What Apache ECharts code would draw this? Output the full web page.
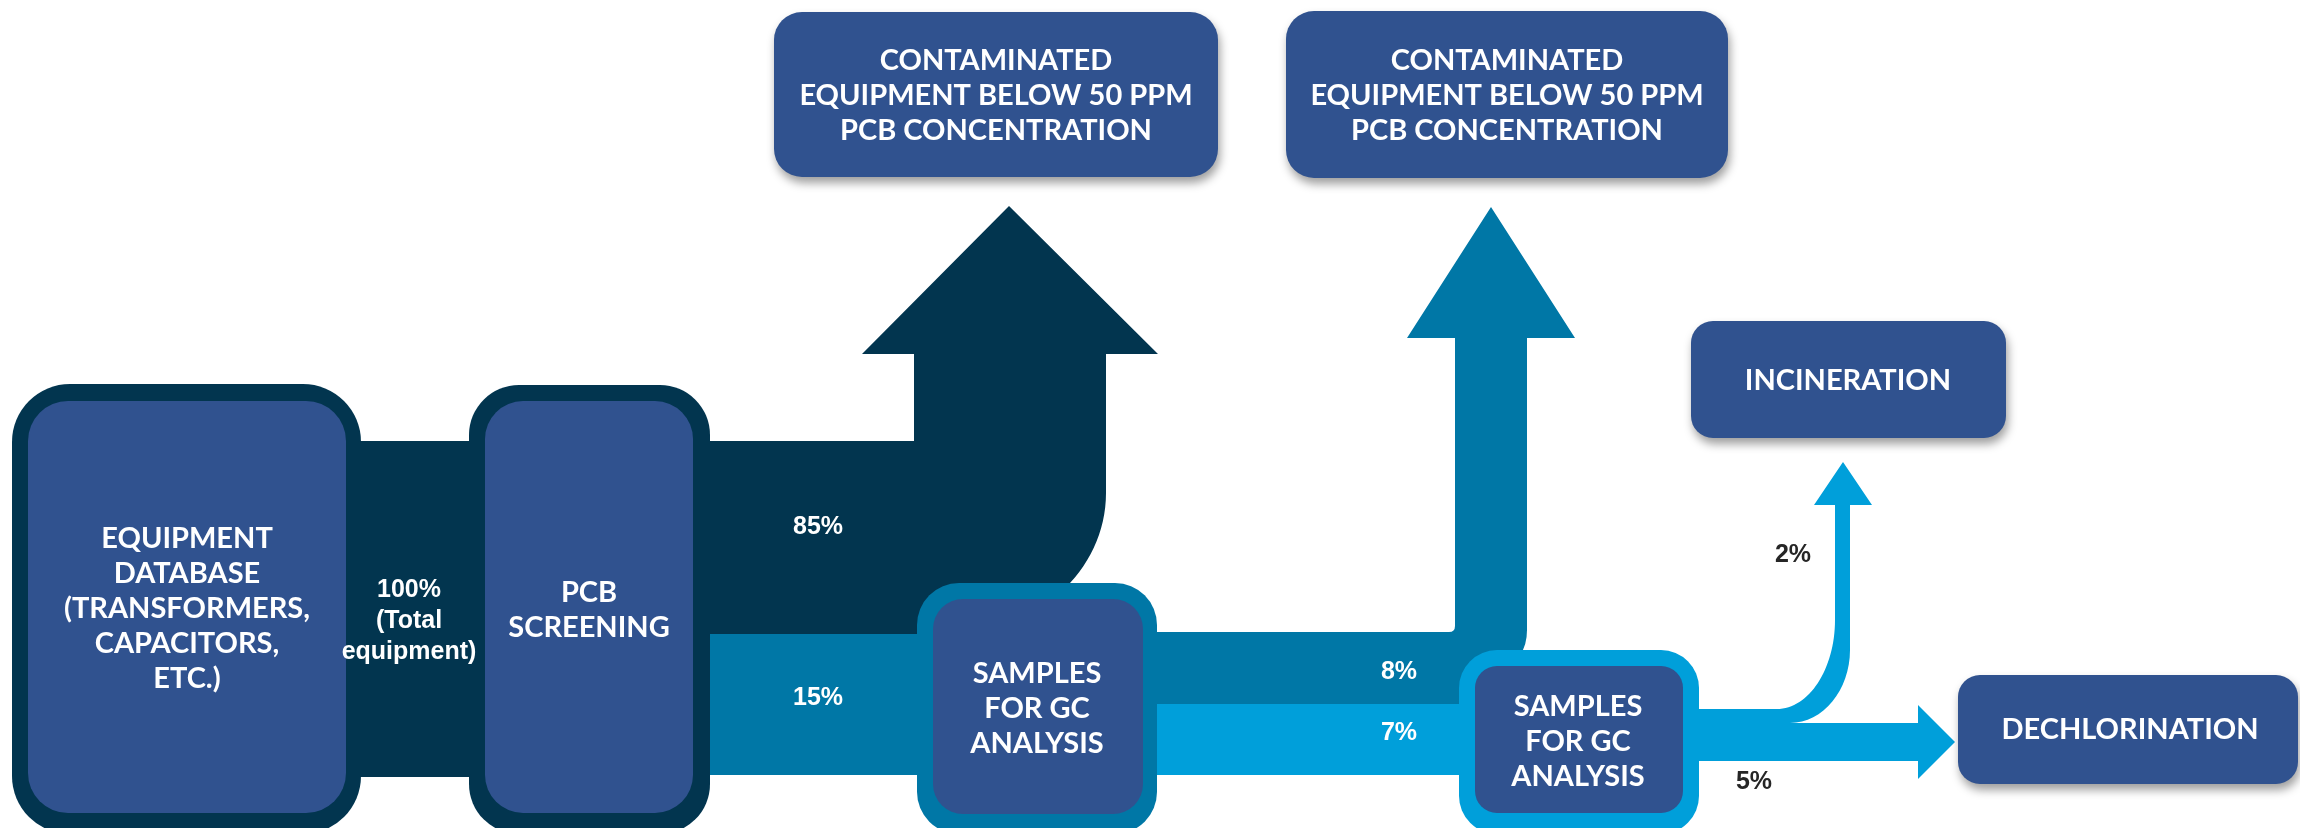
<!DOCTYPE html>
<html>
<head>
<meta charset="utf-8">
<script src="https://cdn.jsdelivr.net/npm/echarts@6/dist/echarts.min.js"></script>
<style>
html,body{margin:0;padding:0;background:#ffffff;}
#chart{width:2300px;height:828px;}
</style>
</head>
<body>
<div id="chart"></div>
<script>
// ---------------- data ----------------
const nodeLabels = [
  'EQUIPMENT\nDATABASE\n(TRANSFORMERS,\nCAPACITORS,\nETC.)',
  'PCB\nSCREENING',
  'SAMPLES\nFOR GC\nANALYSIS',
  'SAMPLES\nFOR GC\nANALYSIS',
  'CONTAMINATED\nEQUIPMENT BELOW 50 PPM\nPCB CONCENTRATION',
  'CONTAMINATED\nEQUIPMENT BELOW 50 PPM\nPCB CONCENTRATION',
  'INCINERATION',
  'DECHLORINATION'
];
const flowShares = [100, 85, 15, 8, 7, 2, 5];
const flowNotes = ['(Total\nequipment)', '', '', '', '', '', ''];

// ---------------- styles ----------------
const COL = {
  dark: '#02354F', blue: '#30528F', teal: '#0077A6', light: '#009FDA',
  white: '#FFFFFF', ink: '#262626'
};
const NODE_FONT = { fontSize: 29, fontFamily: 'Lato, "Open Sans", sans-serif', fontWeight: 'bold', lineHeight: 35 };
const FLOW_FONT = { fontSize: 25, fontFamily: '"Liberation Sans", Arial, sans-serif', fontWeight: 'bold', lineHeight: 31 };

// ---------------- layout (axis units = canvas px) ----------------
const flowLayout = [
  { color: COL.dark, label: [409, 621], ink: COL.white,
    path: [['M',340,441],['L',480,441],['L',480,777],['L',340,777],['Z']] },
  { color: COL.dark, label: [818, 527], ink: COL.white,
    path: [['M',700,441],['L',914,441],['L',914,354],['L',862,354],['L',1009,206],['L',1158,354],['L',1106,354],
           ['L',1106,493],['C',1106,571,1036,634,950,634],['L',700,634],['Z']] },
  { color: COL.teal, label: [818, 698], ink: COL.white,
    path: [['M',700,634],['L',930,634],['L',930,775],['L',700,775],['Z']] },
  { color: COL.teal, label: [1399, 672], ink: COL.white,
    path: [['M',1150,632],['L',1449,632],['Q',1455,632,1455,626],['L',1455,338],['L',1407,338],['L',1491,207],
           ['L',1575,338],['L',1527,338],['L',1527,630],['Q',1527,645,1520,655],['L',1520,704],['L',1150,704],['Z']] },
  { color: COL.light, label: [1399, 733], ink: COL.white,
    path: [['M',1150,704],['L',1470,704],['L',1470,775],['L',1150,775],['Z']] },
  { color: COL.light, label: [1793, 555], ink: COL.ink,
    path: [['M',1690,709],['L',1777,709],['C',1809,709,1835,669,1835,620],['L',1835,505],['L',1814,505],['L',1843,462],
           ['L',1872,505],['L',1850,505],['L',1850,650],['C',1850,690,1823,723,1790,723],['L',1690,723],['Z']] },
  { color: COL.light, label: [1754, 782], ink: COL.ink,
    path: [['M',1690,723],['L',1918,723],['L',1918,705],['L',1955,742],['L',1918,779],['L',1918,761],['L',1690,761],['Z']] }
];

const nodeLayout = [
  { inner: [28,401,346,813], ir: 40, outer: [12,384,361,834], or: 58, border: COL.dark, text: [187,609] },
  { inner: [485,401,693,813], ir: 38, outer: [469,385,710,834], or: 50, border: COL.dark, text: [589,610] },
  { inner: [933,599,1143,814], ir: 30, outer: [917,583,1157,834], or: 42, border: COL.teal, text: [1037,709] },
  { inner: [1475,666,1683,813], ir: 22, outer: [1459,650,1699,834], or: 38, border: COL.light, text: [1578,742] },
  { inner: [774,12,1218,177], ir: 28, shadow: true, text: [996,96] },
  { inner: [1286,11,1728,178], ir: 28, shadow: true, text: [1507,96] },
  { inner: [1691,321,2006,438], ir: 22, shadow: true, text: [1848,381] },
  { inner: [1958,675,2298,784], ir: 22, shadow: true, text: [2130,730] }
];

// ---------------- helpers ----------------
function pathString(api, cmds) {
  return cmds.map(function (c) {
    const parts = [c[0]];
    for (let i = 1; i < c.length; i += 2) {
      const p = api.coord([c[i], c[i + 1]]);
      parts.push(p[0].toFixed(1) + ' ' + p[1].toFixed(1));
    }
    return parts.join(' ');
  }).join(' ');
}
function rectShape(api, box, r) {
  const a = api.coord([box[0], box[1]]);
  const b = api.coord([box[2], box[3]]);
  return { x: a[0], y: a[1], width: b[0] - a[0], height: b[1] - a[1], r: r };
}

const chart = echarts.init(document.getElementById('chart'), null, { renderer: 'canvas' });

const option = {
  animation: false,
  backgroundColor: '#ffffff',
  grid: { left: 0, right: 0, top: 0, bottom: 0 },
  xAxis: { type: 'value', min: 0, max: 2300, show: false },
  yAxis: { type: 'value', min: 0, max: 828, inverse: true, show: false },
  series: [
    {
      name: 'flows', type: 'custom', coordinateSystem: 'cartesian2d', clip: false, z: 1,
      data: flowShares.map(function (v, i) { return [i, v]; }),
      renderItem: function (params, api) {
        const g = flowLayout[params.dataIndex];
        return { type: 'path', shape: { pathData: pathString(api, g.path) }, style: { fill: g.color } };
      }
    },
    {
      name: 'nodes', type: 'custom', coordinateSystem: 'cartesian2d', clip: false, z: 2,
      data: nodeLabels.map(function (t, i) { return [i, t]; }),
      renderItem: function (params, api) {
        const g = nodeLayout[params.dataIndex];
        const children = [];
        if (g.outer) {
          children.push({ type: 'rect', shape: rectShape(api, g.outer, g.or), style: { fill: g.border } });
        }
        const innerStyle = { fill: COL.blue };
        if (g.shadow) {
          innerStyle.shadowBlur = 10; innerStyle.shadowOffsetX = 2; innerStyle.shadowOffsetY = 6;
          innerStyle.shadowColor = 'rgba(0,0,0,0.38)';
        }
        children.push({ type: 'rect', shape: rectShape(api, g.inner, g.ir), style: innerStyle });
        const tp = api.coord(g.text);
        children.push({
          type: 'text', x: tp[0], y: tp[1],
          style: Object.assign({ text: nodeLabels[params.dataIndex], fill: COL.white, align: 'center', verticalAlign: 'middle' }, NODE_FONT)
        });
        return { type: 'group', children: children };
      }
    },
    {
      name: 'flowLabels', type: 'custom', coordinateSystem: 'cartesian2d', clip: false, z: 3,
      data: flowShares.map(function (v, i) { return [i, v]; }),
      renderItem: function (params, api) {
        const i = params.dataIndex;
        const g = flowLayout[i];
        const tp = api.coord(g.label);
        const txt = flowShares[i] + '%' + (flowNotes[i] ? '\n' + flowNotes[i] : '');
        return {
          type: 'text', x: tp[0], y: tp[1],
          style: Object.assign({ text: txt, fill: g.ink, align: 'center', verticalAlign: 'middle' }, FLOW_FONT)
        };
      }
    }
  ]
};
chart.setOption(option);
</script>
</body>
</html>
